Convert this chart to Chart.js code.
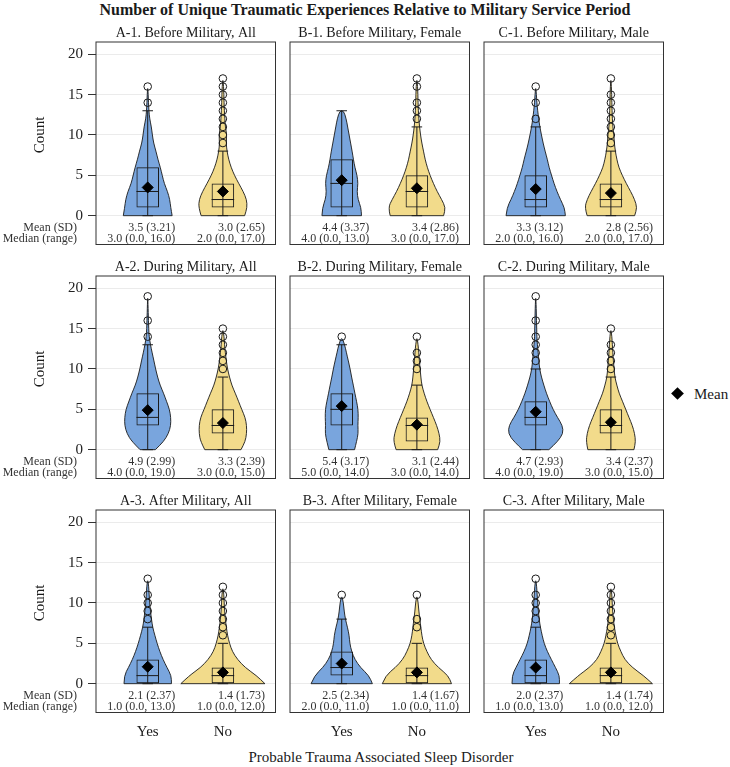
<!DOCTYPE html>
<html>
<head>
<meta charset="utf-8">
<script src="https://cdn.jsdelivr.net/npm/chart.js@4.4.1/dist/chart.umd.min.js"></script>
<style>
  body { margin: 0; background: #fff; }
  #wrap { position: relative; width: 730px; height: 767px; font-family: "Liberation Serif", "Times New Roman", serif; color: #1a1a1a; }
  #wrap canvas { position: absolute; }
  .lbl { position: absolute; white-space: nowrap; }
</style>
</head>
<body>
<div id="wrap">
  <div class="lbl" style="left:0;width:730px;top:0;text-align:center;font-size:16px;font-weight:bold;line-height:20px;">Number of Unique Traumatic Experiences Relative to Military Service Period</div>
  <div class="lbl" style="left:381px;top:747px;transform:translateX(-50%);font-size:15px;line-height:20px;">Probable Trauma Associated Sleep Disorder</div>
  <div class="lbl" style="left:673px;top:389px;width:9px;height:9px;background:#000;transform:rotate(45deg);"></div>
  <div class="lbl" style="left:694px;top:384px;font-size:15px;line-height:20px;">Mean</div>
</div>
<script>
// ---- data ----
const panelTitles = [
  'A-1. Before Military, All', 'B-1. Before Military, Female', 'C-1. Before Military, Male',
  'A-2. During Military, All', 'B-2. During Military, Female', 'C-2. During Military, Male',
  'A-3. After Military, All', 'B-3. After Military, Female', 'C-3. After Military, Male'
];
const groupLabels = ['Yes', 'No'];
const yTicks = [0, 5, 10, 15, 20];

// [Yes, No] for each panel
const means   = [[3.5,3.0],[4.4,3.4],[3.3,2.8],[4.9,3.3],[5.4,3.1],[4.7,3.4],[2.1,1.4],[2.5,1.4],[2.0,1.4]];
const sds     = [[3.21,2.65],[3.37,2.86],[3.12,2.56],[2.99,2.39],[3.17,2.44],[2.93,2.37],[2.37,1.73],[2.34,1.67],[2.37,1.74]];
const medians = [[3,2],[4,3],[2,2],[4,3],[5,3],[4,3],[1,1],[2,1],[1,1]];
const minima  = [[0,0],[0,0],[0,0],[0,0],[0,0],[0,0],[0,0],[0,0],[0,0]];
const maxima  = [[16,17],[13,17],[16,17],[19,15],[14,14],[19,15],[13,12],[11,11],[13,12]];
const q1s     = [[1,1],[1,1],[1,1],[3,2],[3,1],[3,2],[0,0],[1,0],[0,0]];
const q3s     = [[6,4],[7,5],[5,4],[7,5],[7,4],[6,5],[3,2],[4,2],[3,2]];
const whiskerLo = [[0,0],[0,0],[0,0],[0,0],[0,0],[0,0],[0,0],[0,0],[0,0]];
const whiskerHi = [[13,8],[13,11],[11,8],[13,9],[13,8],[10,9],[7,5],[8,5],[7,5]];
const outliers = [
  [[14,16],[9,10,11,12,13,14,15,16,17]],
  [[],[12,13,14,16,17]],
  [[12,14,16],[9,10,11,12,13,14,15,17]],
  [[14,16,19],[10,11,12,13,14,15]],
  [[14],[10,11,12,14]],
  [[11,12,13,14,16,19],[10,11,12,13,15]],
  [[8,9,10,11,13],[6,7,8,9,10,11,12]],
  [[11],[7,8,11]],
  [[8,9,10,11,13],[6,7,8,9,10,11,12]]
];
// violin half-width (density) at counts 0,1,2,...,max
const violinWidths = [
  [[24.7,23.3,22.3,20,16.7,14.7,12.7,10.3,8.3,6,4.7,3.7,2,1.2,0.8,0.5,0],
   [22,24.5,24,20.5,16,11.7,8.3,5.8,4.2,3.3,4,2.5,2,1.5,1.2,1,0.7,0]],
  [[20,19.5,16.5,15.5,16.5,15.5,13.3,11.8,10.5,9,7.5,6,4.5,2],
   [27,29,25,20.5,16.7,13.3,10.5,8.3,6.7,5,3.7,2.7,2,1.5,1.2,1,0.7,0]],
  [[30,29,25,21.5,18.5,16,13.5,11.7,9.5,7.5,5.8,4.2,3,2,1.2,0.7,0],
   [24,26.5,24,20,15.5,11.5,8,6,4.5,3.5,3,2,1.5,1.2,1,0.8,0.5,0]],
  [[7.7,16,21,23.3,23.3,22,19,16,12.5,10,8,6.3,4.5,2.8,1.5,1,0.8,0.5,0.3,0],
   [18.3,22.5,24,24,22.5,19,15.8,12.5,9,6.7,4.7,3.5,2.5,1.7,1.2,0]],
  [[13,15,16.7,16.3,16.7,16.5,15,13.3,11.7,10,8.5,6.7,4.8,3,0],
   [21,23.7,22.5,20,16.7,13.3,10,7.3,5,4,3.3,2.5,2,1.2,0]],
  [[13.3,22,27.8,27,22,17.5,14,10.8,8.2,5.8,4,3.2,2.5,1.7,1.2,1,0.8,0.6,0.4,0],
   [23.3,25,24,21.7,18.3,15,11.7,8.3,6,4,3.3,2.5,2,1.5,1,0]],
  [[24,23.8,19.5,15.5,12.2,9.5,7.2,5,3.8,2.8,2,1.5,1,0],
   [42.5,34,22.5,14.8,9.5,6.7,4.7,3.5,2.5,1.8,1.3,1,0]],
  [[31,27.5,19,13.3,10,8.2,7.5,5.8,3.7,2.5,1.7,0],
   [35,31.7,21.7,14.3,10,6.7,5,4,3,2,1.3,0]],
  [[24,24,20,15.8,11.7,8.5,6.5,4.7,3.5,2.7,2,1.5,1,0],
   [42,33,21.7,14,10,6.7,5,3.5,2.5,1.8,1.3,1,0]]
];

// ---- styling / layout ----
const family = '"Liberation Serif", "Times New Roman", serif';
const fills = ['#79a5dd', '#f2db8b'];
const ink = '#1a1a1a';
const violinScale = 1 / 76;   // x-units per density unit
const boxHalf = 0.15, capHalf = 0.07;
const colLefts = [96, 290, 484];
const rowTops = [42, 276, 510];
const axisW = 96, padTop = 40, frameW = 181.5, frameH = 202.5, canvasW = 282, canvasH = 273;

function smoothPath(ctx, pts) {
  ctx.moveTo(pts[0][0], pts[0][1]);
  for (let i = 1; i < pts.length - 1; i++) {
    const mx = (pts[i][0] + pts[i + 1][0]) / 2, my = (pts[i][1] + pts[i + 1][1]) / 2;
    ctx.quadraticCurveTo(pts[i][0], pts[i][1], mx, my);
  }
  ctx.lineTo(pts[pts.length - 1][0], pts[pts.length - 1][1]);
}

const boxPlotParts = {
  id: 'boxPlotParts',
  beforeDatasetsDraw(chart, args, opts) {
    const p = opts.panel;
    const {ctx, scales: {x, y}} = chart;
    ctx.save();
    for (let g = 0; g < 2; g++) {
      const c = g + 1;
      const dens = violinWidths[p][g];
      const pts = [];
      dens.forEach((d, lv) => pts.push([x.getPixelForValue(c - d * violinScale), y.getPixelForValue(lv)]));
      for (let lv = dens.length - 1; lv >= 0; lv--) {
        if (lv === dens.length - 1 && dens[lv] === 0) continue;
        pts.push([x.getPixelForValue(c + dens[lv] * violinScale), y.getPixelForValue(lv)]);
      }
      ctx.beginPath();
      smoothPath(ctx, pts);
      ctx.closePath();
      ctx.fillStyle = fills[g];
      ctx.fill();
      ctx.lineWidth = 0.9;
      ctx.strokeStyle = ink;
      ctx.stroke();

      // whisker line and caps
      const cx = x.getPixelForValue(c);
      const lo = y.getPixelForValue(whiskerLo[p][g]), hi = y.getPixelForValue(whiskerHi[p][g]);
      ctx.lineWidth = 1;
      ctx.beginPath();
      ctx.moveTo(cx, lo); ctx.lineTo(cx, hi);
      [lo, hi].forEach(py => {
        ctx.moveTo(x.getPixelForValue(c - capHalf), py);
        ctx.lineTo(x.getPixelForValue(c + capHalf), py);
      });
      // median
      const my = y.getPixelForValue(medians[p][g]);
      ctx.moveTo(x.getPixelForValue(c - boxHalf), my);
      ctx.lineTo(x.getPixelForValue(c + boxHalf), my);
      ctx.stroke();
    }
    ctx.restore();
  },
  afterDraw(chart, args, opts) {
    const p = opts.panel, col = p % 3;
    const {ctx, chartArea: a, scales: {x, y}} = chart;
    ctx.save();
    ctx.strokeStyle = '#333';
    ctx.lineWidth = 1;
    ctx.strokeRect(a.left, a.top, a.right - a.left, a.bottom - a.top);

    ctx.fillStyle = ink;
    ctx.textBaseline = 'middle';
    ctx.textAlign = 'center';
    ctx.font = '14px ' + family;
    ctx.fillText(panelTitles[p], (a.left + a.right) / 2, a.top - 8.5);

    ctx.font = '12px ' + family;
    ctx.fillStyle = '#333';
    ctx.textAlign = 'right';
    const rightEdge = [1.365, 2.56];
    for (let g = 0; g < 2; g++) {
      const tx = x.getPixelForValue(rightEdge[g]);
      ctx.fillText(means[p][g].toFixed(1) + ' (' + sds[p][g].toFixed(2) + ')', tx, y.getPixelForValue(-1.49));
      ctx.fillText(medians[p][g].toFixed(1) + ' (' + minima[p][g].toFixed(1) + ', ' + maxima[p][g].toFixed(1) + ')', tx, y.getPixelForValue(-2.89));
    }
    if (col === 0) {
      ctx.fillText('Mean (SD)', a.left - 19, y.getPixelForValue(-1.49));
      ctx.fillText('Median (range)', a.left - 19, y.getPixelForValue(-2.89));
      ctx.save();
      ctx.translate(39.7, y.getPixelForValue(10));
      ctx.rotate(-Math.PI / 2);
      ctx.textAlign = 'center';
      ctx.fillStyle = ink;
      ctx.font = '15px ' + family;
      ctx.fillText('Count', 0, 0);
      ctx.restore();
    }
    ctx.restore();
  }
};

const wrap = document.getElementById('wrap');
for (let p = 0; p < 9; p++) {
  const row = Math.floor(p / 3), col = p % 3;
  const cv = document.createElement('canvas');
  cv.width = canvasW; cv.height = canvasH;
  cv.style.left = (colLefts[col] - axisW) + 'px';
  cv.style.top = (rowTops[row] - padTop) + 'px';
  cv.style.width = canvasW + 'px'; cv.style.height = canvasH + 'px';
  wrap.appendChild(cv);

  new Chart(cv, {
    type: 'scatter',
    data: {
      datasets: [
        {
          type: 'scatter',
          data: [0, 1].map(g => ({x: g + 1, y: means[p][g]})),
          pointStyle: 'rectRot', pointRadius: 5.5,
          pointBackgroundColor: '#000', pointBorderColor: '#000', pointBorderWidth: 1,
          order: 1
        },
        {
          type: 'scatter',
          data: [0, 1].flatMap(g => outliers[p][g].map(v => ({x: g + 1, y: v}))),
          pointStyle: 'circle', pointRadius: 3.8,
          pointBackgroundColor: 'rgba(0,0,0,0)', pointBorderColor: ink, pointBorderWidth: 1,
          order: 2
        },
        {
          type: 'bar',
          data: [0, 1].map(g => ({x: g + 1, y: [q1s[p][g], q3s[p][g]]})),
          backgroundColor: 'rgba(0,0,0,0)', borderColor: ink, borderWidth: 1,
          borderSkipped: false, barPercentage: boxHalf * 2, categoryPercentage: 1,
          order: 3
        }
      ]
    },
    options: {
      responsive: false,
      animation: false,
      events: [],
      layout: {padding: {left: 0, right: canvasW - axisW - frameW, top: padTop, bottom: 0}},
      plugins: {
        legend: {display: false},
        tooltip: {enabled: false},
        boxPlotParts: {panel: p}
      },
      scales: {
        x: {
          type: 'linear', min: 0.312, max: 2.7, offset: false,
          afterBuildTicks: s => { s.ticks = [{value: 1}, {value: 2}]; },
          afterFit: s => { s.height = canvasH - padTop - frameH; },
          grid: {display: false, drawTicks: false, offset: false},
          border: {display: false},
          ticks: {
            display: row === 2,
            callback: v => groupLabels[v - 1],
            font: {family: family, size: 15},
            color: ink,
            padding: 11,
            maxRotation: 0
          }
        },
        y: {
          min: -3.57, max: 21.52,
          afterBuildTicks: s => { s.ticks = yTicks.map(v => ({value: v})); },
          afterFit: s => { s.width = axisW; },
          grid: {color: '#ebebeb', lineWidth: 1, tickColor: '#333', tickLength: 8, drawTicks: col === 0},
          border: {display: false},
          ticks: {
            display: col === 0,
            font: {family: family, size: 15},
            color: '#222',
            padding: 5
          }
        }
      }
    },
    plugins: [boxPlotParts]
  });
}
</script>
</body>
</html>
